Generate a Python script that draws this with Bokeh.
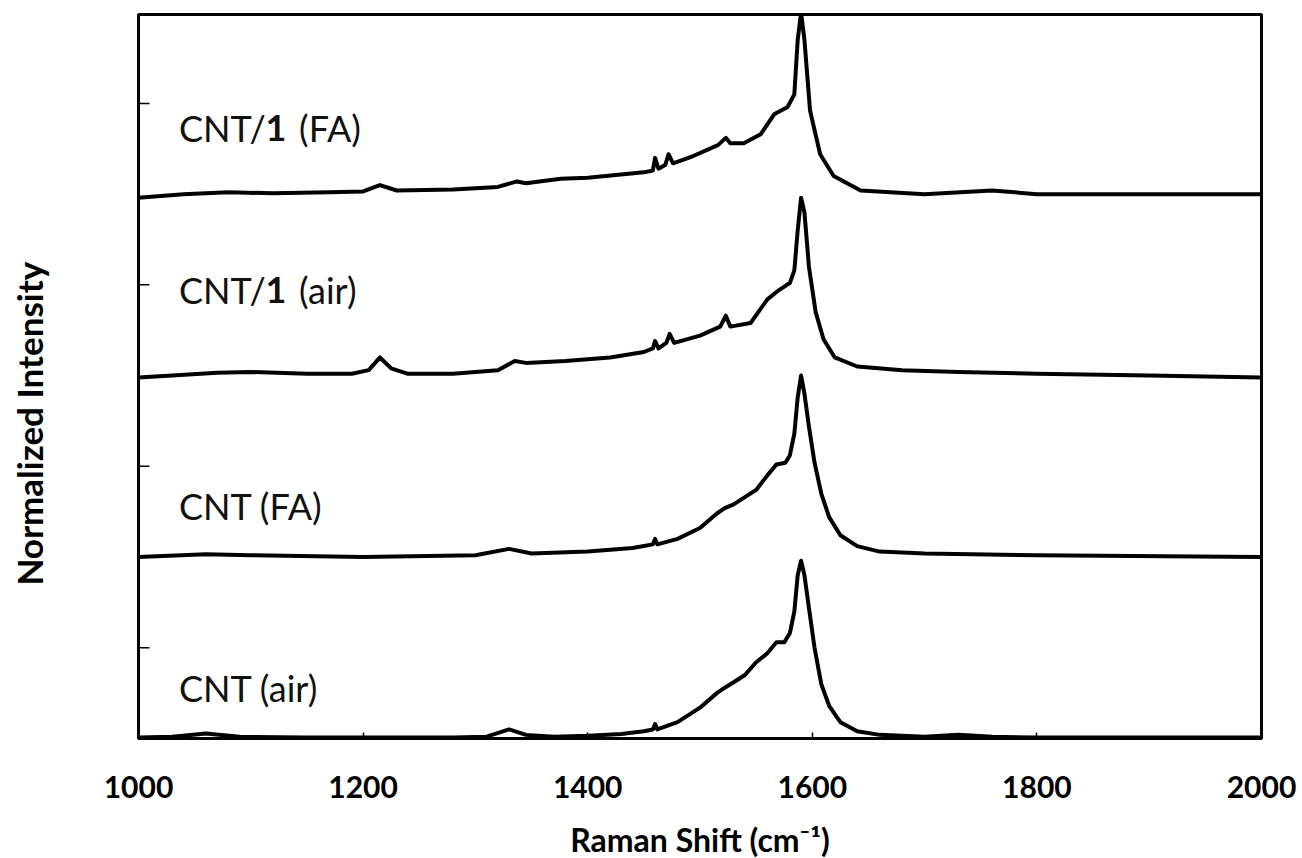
import numpy as np
from bokeh.plotting import figure
from bokeh.layouts import row
from bokeh.models import FixedTicker, Label, Range1d
from bokeh.embed import file_html
from bokeh.resources import INLINE

# ---------------- data (Raman shift in cm-1, normalized intensity) ----------------
cnt_air_x = [1000, 1030, 1060, 1090, 1150, 1200, 1280, 1310, 1330, 1345, 1370, 1400,
             1430, 1450, 1458, 1460, 1462, 1480, 1500, 1515, 1522, 1530, 1540, 1550,
             1560, 1568, 1575, 1580, 1584, 1587, 1590, 1593, 1597, 1602, 1608, 1615,
             1625, 1640, 1660, 1700, 1730, 1760, 1800, 1900, 2000]
cnt_air_y = [0.005, 0.01, 0.028, 0.01, 0.005, 0.005, 0.005, 0.01, 0.05, 0.02, 0.01, 0.015,
             0.025, 0.04, 0.05, 0.08, 0.05, 0.09, 0.17, 0.25, 0.28, 0.31, 0.35, 0.42,
             0.47, 0.53, 0.53, 0.58, 0.70, 0.90, 0.98, 0.90, 0.72, 0.50, 0.30, 0.18,
             0.09, 0.04, 0.02, 0.01, 0.02, 0.01, 0.005, 0.005, 0.005]

cnt_fa_x = [1000, 1060, 1100, 1200, 1300, 1330, 1350, 1400, 1440, 1458, 1460, 1462,
            1480, 1500, 1515, 1522, 1530, 1540, 1550, 1560, 1568, 1576, 1580, 1584,
            1587, 1590, 1593, 1597, 1602, 1608, 1615, 1625, 1640, 1660, 1700, 1800, 2000]
cnt_fa_y = [0.0, 0.015, 0.01, 0.0, 0.01, 0.045, 0.02, 0.03, 0.05, 0.07, 0.10, 0.07,
            0.10, 0.16, 0.24, 0.27, 0.29, 0.33, 0.37, 0.45, 0.51, 0.52, 0.56, 0.68,
            0.88, 1.0, 0.90, 0.72, 0.52, 0.35, 0.22, 0.12, 0.06, 0.03, 0.02, 0.01, 0.0]

cnt1_air_x = [1000, 1030, 1070, 1100, 1150, 1190, 1205, 1215, 1225, 1240, 1280, 1300,
              1320, 1335, 1345, 1380, 1420, 1450, 1458, 1460, 1463, 1470, 1473, 1477,
              1500, 1518, 1523, 1527, 1545, 1560, 1570, 1580, 1584, 1587, 1590, 1593,
              1597, 1603, 1610, 1620, 1640, 1680, 1730, 1800, 1900, 2000]
cnt1_air_y = [-0.01, 0.0, 0.015, 0.02, 0.01, 0.01, 0.03, 0.10, 0.04, 0.01, 0.01, 0.02,
              0.03, 0.08, 0.07, 0.08, 0.10, 0.13, 0.15, 0.19, 0.15, 0.18, 0.23, 0.18,
              0.22, 0.27, 0.33, 0.27, 0.29, 0.42, 0.47, 0.51, 0.58, 0.80, 0.98, 0.90,
              0.60, 0.35, 0.20, 0.10, 0.05, 0.03, 0.02, 0.01, 0.0, -0.01]

cnt1_fa_x = [1000, 1040, 1080, 1120, 1170, 1200, 1215, 1230, 1280, 1320, 1337, 1345,
             1376, 1400, 1450, 1458, 1460, 1463, 1469, 1472, 1476, 1494, 1516, 1523,
             1527, 1539, 1554, 1566, 1578, 1584, 1587, 1590, 1593, 1598, 1607, 1619,
             1643, 1700, 1760, 1800, 2000]
cnt1_fa_y = [-0.02, 0.0, 0.01, 0.005, 0.01, 0.015, 0.05, 0.02, 0.025, 0.04, 0.07, 0.06,
             0.085, 0.09, 0.12, 0.13, 0.20, 0.14, 0.16, 0.22, 0.17, 0.21, 0.27, 0.31,
             0.28, 0.28, 0.33, 0.44, 0.48, 0.55, 0.85, 1.0, 0.85, 0.46, 0.22, 0.10,
             0.02, 0.0, 0.02, 0.0, 0.0]

offsets = [0, 1, 2, 3]
x_ticks = [1000, 1200, 1400, 1600, 1800, 2000]
y_ticks = [0.5, 1.5, 2.5, 3.5]

FONT = "Lato"

# ---------------- left strip holding the y-axis title ----------------
left = figure(width=98, height=858, output_backend="svg", toolbar_location=None,
              x_range=Range1d(0, 98), y_range=Range1d(0, 858),
              x_axis_location=None, y_axis_location=None, min_border=0)
left.outline_line_color = None
left.grid.visible = False
left.add_layout(Label(x=28, y=371, text="Normalized Intensity", angle=np.pi / 2,
                      text_font=FONT, text_font_style="bold", text_font_size="35px",
                      text_align="center", text_baseline="middle", text_color="black"))

# ---------------- main plot ----------------
p = figure(frame_width=1123, frame_height=724, output_backend="svg", toolbar_location=None,
           x_range=Range1d(1000, 2000), y_range=Range1d(0, 3.99),
           y_axis_location=None,
           min_border_left=40, min_border_right=41, min_border_top=14, min_border_bottom=100)
p.background_fill_color = "white"
p.border_fill_color = "white"
p.grid.visible = False
p.outline_line_color = "black"
p.outline_line_width = 3

series = [(cnt_air_x, cnt_air_y), (cnt_fa_x, cnt_fa_y),
          (cnt1_air_x, cnt1_air_y), (cnt1_fa_x, cnt1_fa_y)]
for (xs, ys), off in zip(series, offsets):
    p.line(xs, np.array(ys) + off, line_color="black", line_width=4, line_join="round")

# inward y ticks (no labels)
p.ray(x=[x_ticks[0]] * len(y_ticks), y=y_ticks, length=11, length_units="screen",
      angle=0, line_color="black", line_width=1.5)

# x axis
p.xaxis.ticker = FixedTicker(ticks=x_ticks)
p.xaxis.axis_line_color = None
p.xaxis.major_tick_in = 6
p.xaxis.major_tick_out = 0
p.xaxis.major_tick_line_width = 1.5
p.xaxis.minor_tick_line_color = None
p.xaxis.major_label_text_font = FONT
p.xaxis.major_label_text_font_style = "bold"
p.xaxis.major_label_text_font_size = "30px"
p.xaxis.major_label_text_color = "black"
p.xaxis.major_label_standoff = 37
p.xaxis.axis_label = "Raman Shift (cm\u207b\u00b9)"
p.xaxis.axis_label_text_font = FONT
p.xaxis.axis_label_text_font_style = "bold"
p.xaxis.axis_label_text_font_size = "32px"
p.xaxis.axis_label_text_color = "black"
p.xaxis.axis_label_standoff = 19

# spectrum labels (bold "1" for compound number)
def plain(x, y, t):
    p.add_layout(Label(x=x, y=y, text=t, text_font=FONT, text_font_size="36px",
                       text_align="left", text_baseline="alphabetic", text_color="#111111"))

def bold(x, y, t):
    p.add_layout(Label(x=x, y=y, text=t, text_font=FONT, text_font_size="36px",
                       text_font_style="bold", text_align="left",
                       text_baseline="alphabetic", text_color="#111111"))

plain(1036, 3.367, "CNT/")
bold(1113, 3.367, "1")
plain(1143, 3.367, "(FA)")
plain(1036, 2.469, "CNT/")
bold(1113, 2.469, "1")
plain(1143, 2.469, "(air)")
plain(1036, 1.284, "CNT (FA)")
plain(1036, 0.281, "CNT (air)")

layout = row(left, p)
open("out.html", "w").write(file_html(layout, INLINE))
